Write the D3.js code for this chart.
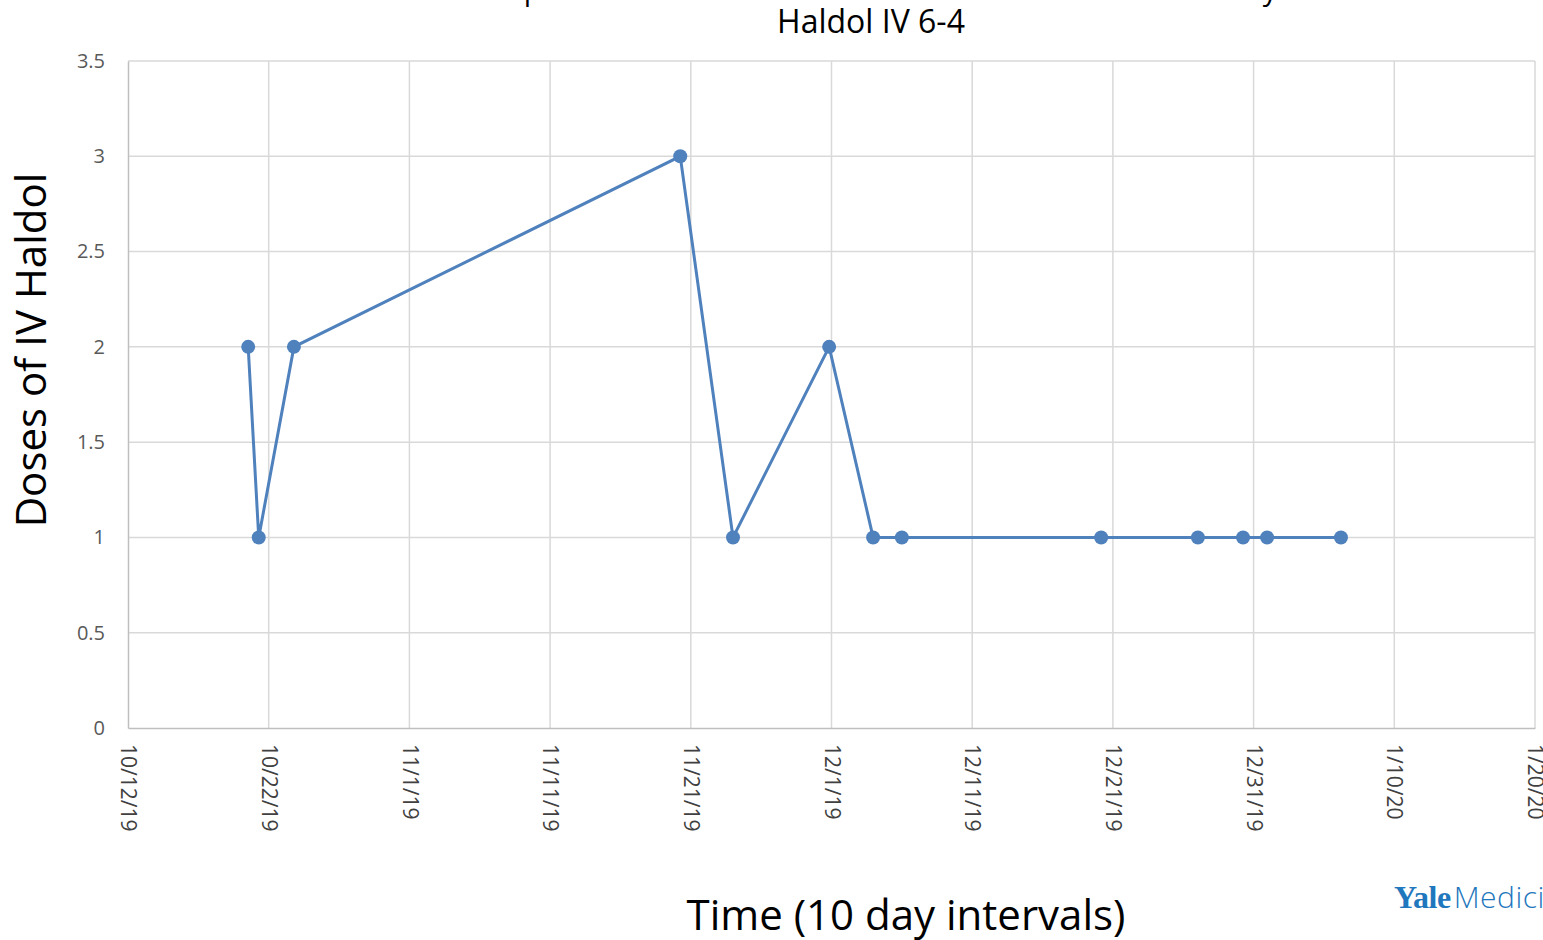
<!DOCTYPE html>
<html>
<head>
<meta charset="utf-8">
<script src="https://cdn.jsdelivr.net/npm/d3@7"></script>
<style>
    body { margin: 0; background: #fff; overflow: hidden; }
    svg { display: block; font-family: "Open Sans", "Noto Sans", sans-serif; }
</style>
</head>
<body>
<svg id="chart"></svg>
<script>
// dose timestamps
const doseTimes = [
    '2019-10-20 13:00', '2019-10-21 07:00', '2019-10-23 19:00',
    '2019-11-20 06:00', '2019-11-24 00:00', '2019-11-30 20:00',
    '2019-12-03 23:00', '2019-12-06 00:00', '2019-12-20 04:00',
    '2019-12-27 01:00', '2019-12-30 06:00', '2019-12-31 23:00',
    '2020-01-06 05:00'
];
const doseCounts = [2, 1, 2, 3, 1, 2, 1, 1, 1, 1, 1, 1, 1];

const xTickDates = ['2019-10-12', '2019-10-22', '2019-11-01', '2019-11-11', '2019-11-21',
    '2019-12-01', '2019-12-11', '2019-12-21', '2019-12-31', '2020-01-10', '2020-01-20'];
const yTicks = [0, 0.5, 1, 1.5, 2, 2.5, 3, 3.5];

const titleTop = 'Temporal Distribution of IV Haldol Doses Administered Daily';
const titleSub = 'Haldol IV 6-4';
const yTitle = 'Doses of IV Haldol';
const xTitle = 'Time (10 day intervals)';

class DoseChart {
    constructor(_config, _data) {
        this.config = {
            parentElement: _config.parentElement,
            containerWidth: _config.containerWidth || 1543,
            containerHeight: _config.containerHeight || 940,
            margin: _config.margin || { top: 61, right: 8, bottom: 212, left: 128 }
        };
        this.data = _data;
        this.initVis();
    }

    initVis() {
        let vis = this;
        vis.width = vis.config.containerWidth - vis.config.margin.left - vis.config.margin.right;
        vis.height = vis.config.containerHeight - vis.config.margin.top - vis.config.margin.bottom;

        vis.svg = d3.select(vis.config.parentElement)
            .attr('width', vis.config.containerWidth)
            .attr('height', vis.config.containerHeight);

        vis.chart = vis.svg.append('g')
            .attr('transform', `translate(${vis.config.margin.left},${vis.config.margin.top})`);

        const parseDay = d3.timeParse('%Y-%m-%d');
        vis.ticks = xTickDates.map(parseDay);

        vis.xScale = d3.scaleTime()
            .domain([vis.ticks[0], vis.ticks[vis.ticks.length - 1]])
            .range([0, vis.width]);

        vis.yScale = d3.scaleLinear()
            .domain([0, 3.5])
            .range([vis.height, 0]);

        vis.renderVis();
    }

    renderVis() {
        let vis = this;

        // gridlines
        vis.chart.append('g')
            .selectAll('line.hgrid')
            .data(yTicks.slice(1))
            .join('line')
            .attr('x1', 0).attr('x2', vis.width)
            .attr('y1', d => vis.yScale(d)).attr('y2', d => vis.yScale(d))
            .attr('stroke', '#d9d9d9').attr('stroke-width', 1.5);

        vis.chart.append('g')
            .selectAll('line.vgrid')
            .data(vis.ticks.slice(1))
            .join('line')
            .attr('x1', d => vis.xScale(d)).attr('x2', d => vis.xScale(d))
            .attr('y1', 0).attr('y2', vis.height)
            .attr('stroke', '#d9d9d9').attr('stroke-width', 1.5);

        // axes
        const xAxis = d3.axisBottom(vis.xScale)
            .tickValues(vis.ticks)
            .tickFormat(d3.timeFormat('%-m/%-d/%y'))
            .tickSize(0);
        const xG = vis.chart.append('g')
            .attr('transform', `translate(0,${vis.height})`)
            .call(xAxis);
        xG.select('.domain').attr('stroke', '#bfbfbf').attr('stroke-width', 1.5);
        xG.selectAll('text')
            .attr('font-size', 21)
            .attr('fill', '#404040')
            .attr('font-family', '"Open Sans", sans-serif')
            .attr('text-anchor', 'start')
            .attr('transform', 'rotate(90)')
            .attr('x', 16)
            .attr('y', 0)
            .attr('dy', '0.35em');

        const yAxis = d3.axisLeft(vis.yScale)
            .tickValues(yTicks)
            .tickFormat(d3.format('~g'))
            .tickSize(0)
            .tickPadding(23);
        const yG = vis.chart.append('g').call(yAxis);
        yG.select('.domain').attr('stroke', '#bfbfbf').attr('stroke-width', 1.5);
        yG.selectAll('text')
            .attr('font-size', 20)
            .attr('fill', '#595959')
            .attr('font-family', '"Open Sans", sans-serif');

        // series
        const line = d3.line()
            .x(d => vis.xScale(d.time))
            .y(d => vis.yScale(d.count));

        vis.chart.append('path')
            .datum(vis.data)
            .attr('fill', 'none')
            .attr('stroke', '#4f81bd')
            .attr('stroke-width', 3)
            .attr('d', line);

        vis.chart.selectAll('circle')
            .data(vis.data)
            .join('circle')
            .attr('cx', d => vis.xScale(d.time))
            .attr('cy', d => vis.yScale(d.count))
            .attr('r', 7)
            .attr('fill', '#4f81bd');

        // titles (first line sits mostly above the top edge, as in the source image)
        vis.svg.append('text')
            .attr('x', 871).attr('y', 0)
            .attr('text-anchor', 'middle')
            .attr('font-size', 29)
            .attr('fill', '#000')
            .text(titleTop);

        vis.svg.append('text')
            .attr('x', 871).attr('y', 33)
            .attr('text-anchor', 'middle')
            .attr('font-size', 32)
            .attr('fill', '#000')
            .text(titleSub);

        vis.svg.append('text')
            .attr('transform', 'translate(46,350) rotate(-90)')
            .attr('text-anchor', 'middle')
            .attr('font-size', 42)
            .attr('fill', '#000')
            .text(yTitle);

        vis.svg.append('text')
            .attr('x', 906).attr('y', 930)
            .attr('text-anchor', 'middle')
            .attr('font-size', 42)
            .attr('fill', '#000')
            .text(xTitle);

        // logo
        const logo = vis.svg.append('text')
            .attr('x', 1394).attr('y', 908)
            .attr('fill', '#1f77bd');
        logo.append('tspan')
            .attr('font-family', '"Liberation Serif", "DejaVu Serif", serif')
            .attr('font-weight', 'bold')
            .attr('font-size', 32)
            .attr('letter-spacing', -0.5)
            .text('Yale');
        logo.append('tspan')
            .attr('font-family', '"Open Sans", sans-serif')
            .attr('font-weight', 300)
            .attr('font-size', 30)
            .attr('letter-spacing', 0.5)
            .attr('dx', 3)
            .text('Medicine');
    }
}

const parseTime = d3.timeParse('%Y-%m-%d %H:%M');
const doses = doseTimes.map((t, i) => ({ time: parseTime(t), count: doseCounts[i] }));

const chart = new DoseChart({ parentElement: '#chart' }, doses);
</script>
</body>
</html>
